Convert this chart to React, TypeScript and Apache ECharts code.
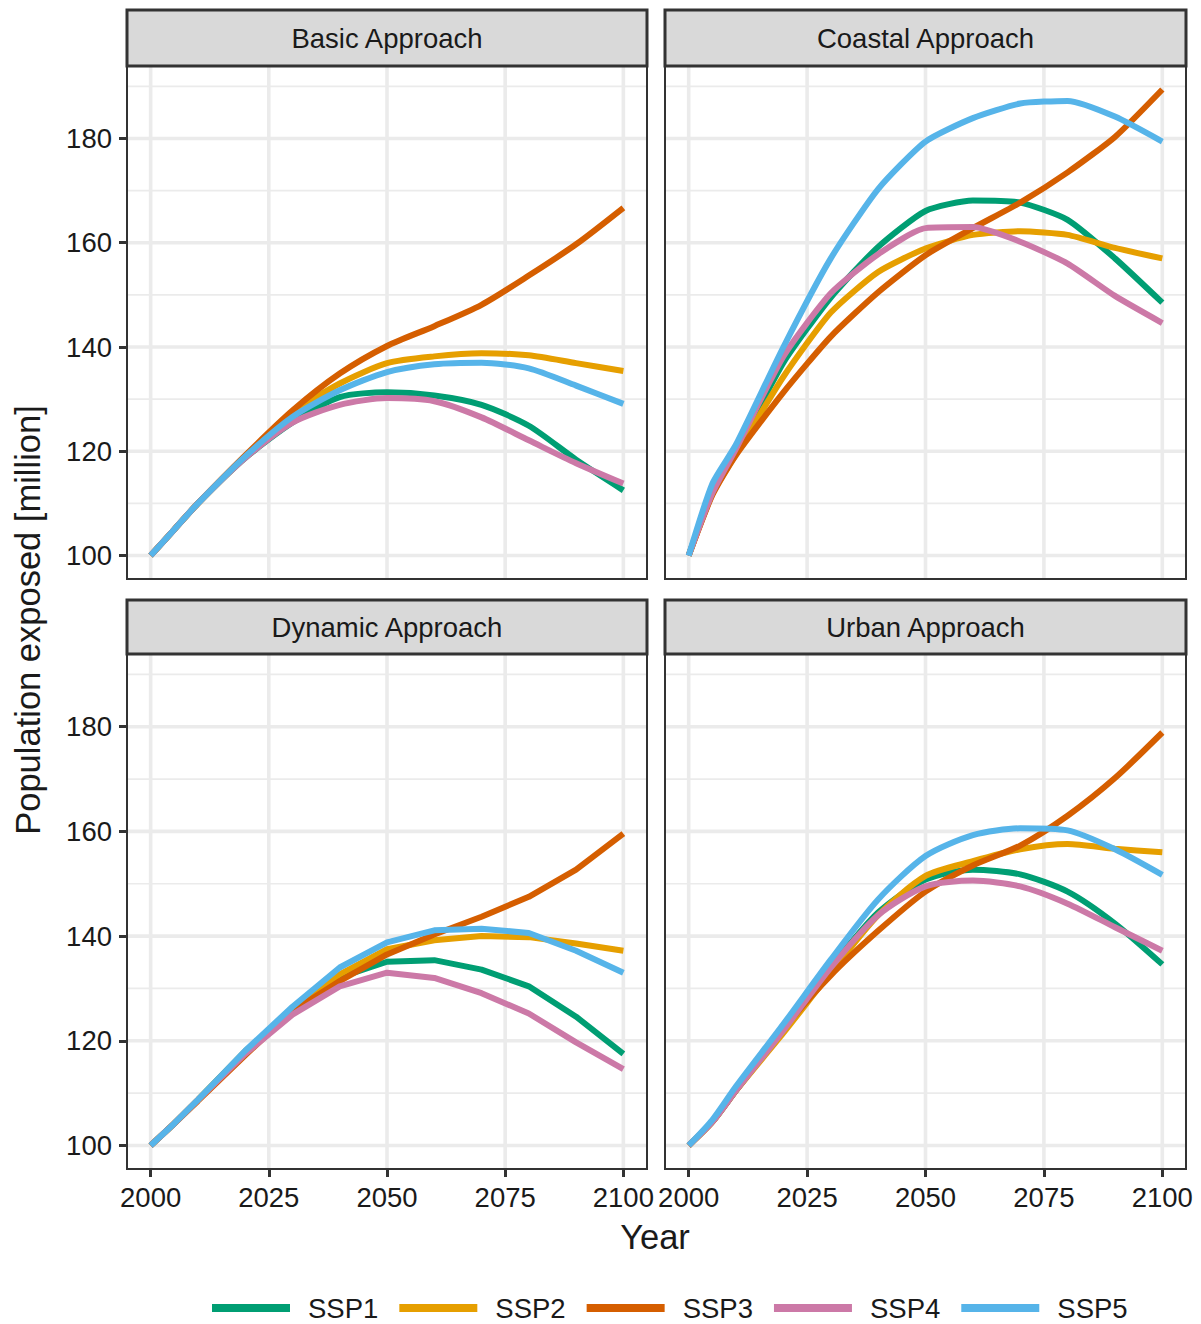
import React, { useEffect, useRef } from "react";
import * as echarts from "echarts";

// ---------- data ----------
const years = [2000, 2005, 2010, 2020, 2030, 2040, 2050, 2060, 2070, 2080, 2090, 2100];
const scenarios = ["SSP1", "SSP2", "SSP3", "SSP4", "SSP5"];
const panelTitles = ["Basic Approach", "Coastal Approach", "Dynamic Approach", "Urban Approach"];

// values per scenario (SSP1..SSP5), population exposed [million]
const basicValues = [
  [100, 105, 110, 118.7, 125.5, 130.4, 131.3, 130.7, 128.9, 124.9, 118.4, 112.5],
  [100, 105, 110, 119.0, 127.3, 133.0, 136.9, 138.2, 138.8, 138.4, 136.9, 135.4],
  [100, 105, 110, 119.2, 127.8, 134.9, 140.2, 144.0, 148.1, 153.7, 159.7, 166.7],
  [100, 105, 110, 118.7, 125.5, 128.9, 130.2, 129.6, 126.5, 122.1, 117.7, 113.8],
  [100, 105, 110, 119.0, 126.6, 131.7, 135.2, 136.7, 137.0, 135.9, 132.6, 129.1],
];
const coastalValues = [
  [100, 112.0, 120.0, 137.0, 149.5, 159.2, 166.1, 168.1, 167.7, 164.4, 157.0, 148.5],
  [100, 111.8, 119.5, 134.3, 146.6, 154.4, 158.9, 161.5, 162.2, 161.5, 159.0, 157.0],
  [100, 111.6, 119.3, 131.3, 142.0, 150.5, 157.6, 162.8, 167.7, 173.5, 180.3, 189.4],
  [100, 112.0, 120.5, 138.2, 150.3, 157.8, 162.8, 163.0, 160.2, 156.0, 149.8, 144.6],
  [100, 113.8, 121.3, 140.0, 157.0, 170.3, 179.4, 183.9, 186.7, 187.2, 184.2, 179.4],
];
const dynamicValues = [
  [100, 104.2, 108.7, 118.0, 125.5, 132.1, 135.1, 135.4, 133.6, 130.4, 124.6, 117.5],
  [100, 104.2, 108.7, 118.0, 125.9, 132.7, 137.5, 139.2, 140.0, 139.8, 138.6, 137.2],
  [100, 104.2, 108.5, 117.2, 125.7, 131.4, 136.5, 140.3, 143.7, 147.5, 152.7, 159.6],
  [100, 104.2, 108.7, 117.5, 125.0, 130.4, 133.0, 132.0, 129.1, 125.2, 119.7, 114.6],
  [100, 104.2, 108.7, 118.1, 126.5, 134.0, 138.8, 141.1, 141.4, 140.6, 137.2, 133.0],
];
const urbanValues = [
  [100, 104.5, 110.5, 122.0, 134.0, 144.5, 150.8, 152.7, 151.8, 148.5, 142.4, 134.6],
  [100, 104.5, 110.5, 121.5, 133.0, 144.0, 151.5, 154.3, 156.6, 157.6, 156.7, 156.0],
  [100, 104.5, 110.5, 122.3, 132.5, 141.0, 148.5, 153.5, 157.3, 163.0, 170.2, 178.9],
  [100, 104.5, 110.5, 122.0, 134.0, 144.0, 149.5, 150.6, 149.5, 146.2, 141.7, 137.2],
  [100, 104.9, 111.3, 123.2, 135.5, 147.0, 155.3, 159.3, 160.6, 160.2, 156.6, 151.7],
];
const panelValues = [basicValues, coastalValues, dynamicValues, urbanValues];

const xTicks = [2000, 2025, 2050, 2075, 2100];
const yTicks = [100, 120, 140, 160, 180];
const yMinorTicks = [110, 130, 150, 170, 190];
const xRange = [1995, 2105];
const yRange = [95.5, 193.9];

// ---------- styling / layout ----------
const colors = ["#009E73", "#E69F00", "#D55E00", "#CC79A7", "#56B4E9"];
const panelSmooth = [0.25, 0.2, 0, 0.25];
const FONT = "'Liberation Sans', Arial, Helvetica, sans-serif";
const TEXT = "#1a1a1a";
const panels = [
  { left: 127, top: 66, width: 520, height: 513 },
  { left: 665, top: 66, width: 521, height: 513 },
  { left: 127, top: 654, width: 520, height: 515 },
  { left: 665, top: 654, width: 521, height: 515 },
];
const strips = [
  { y: 10, h: 56 },
  { y: 10, h: 56 },
  { y: 600, h: 54 },
  { y: 600, h: 54 },
];

function buildOption() {
  const grid = panels.map((p) => ({ ...p, show: false, containLabel: false }));

  const xAxis = panels.map((_, i) => {
    const bottom = i >= 2;
    return {
      type: "value",
      gridIndex: i,
      min: xRange[0],
      max: xRange[1],
      axisLine: { show: false, onZero: false },
      splitLine: { show: false },
      axisTick: {
        show: bottom,
        customValues: xTicks,
        length: 8,
        lineStyle: { color: "#333333", width: 3 },
      },
      axisLabel: {
        show: bottom,
        customValues: xTicks,
        margin: 14,
        fontSize: 27.5,
        color: TEXT,
        fontFamily: FONT,
        hideOverlap: false,
        formatter: (v: number) => String(v),
      },
    };
  });

  const yAxis = panels.map((_, i) => {
    const left = i % 2 === 0;
    return {
      type: "value",
      gridIndex: i,
      min: yRange[0],
      max: yRange[1],
      axisLine: { show: false, onZero: false },
      splitLine: { show: false },
      axisTick: {
        show: left,
        customValues: yTicks,
        length: 8,
        lineStyle: { color: "#333333", width: 3 },
      },
      axisLabel: {
        show: left,
        customValues: yTicks,
        margin: 15,
        fontSize: 27.5,
        color: TEXT,
        fontFamily: FONT,
        hideOverlap: false,
        formatter: (v: number) => String(v),
      },
    };
  });

  const series: any[] = [];
  panels.forEach((_, gi) => {
    const seg = (data: number[][], width: number) => ({
      type: "line",
      xAxisIndex: gi,
      yAxisIndex: gi,
      data,
      symbol: "none",
      silent: true,
      z: 1,
      lineStyle: { color: "#ebebeb", width },
      tooltip: { show: false },
    });
    yMinorTicks.forEach((v) => series.push(seg([[xRange[0], v], [xRange[1], v]], 1.7)));
    yTicks.forEach((v) => series.push(seg([[xRange[0], v], [xRange[1], v]], 3.6)));
    xTicks.forEach((v) => series.push(seg([[v, yRange[0]], [v, yRange[1]]], 3.6)));
  });
  panels.forEach((_, gi) => {
    panelValues[gi].forEach((vals, s) => {
      series.push({
        type: "line",
        name: scenarios[s],
        xAxisIndex: gi,
        yAxisIndex: gi,
        data: years.map((yr, k) => [yr, vals[k]]),
        symbol: "none",
        showSymbol: false,
        silent: true,
        smooth: panelSmooth[gi],
        z: 3,
        color: colors[s],
        itemStyle: { color: colors[s] },
        lineStyle: { color: colors[s], width: 6 },
      });
    });
  });

  const graphic: any[] = [];
  panels.forEach((p, i) => {
    graphic.push({
      type: "rect",
      z: 100,
      shape: { x: p.left, y: p.top, width: p.width, height: p.height },
      style: { fill: "none", stroke: "#333333", lineWidth: 2 },
      silent: true,
    });
    const st = strips[i];
    graphic.push({
      type: "rect",
      z: 100,
      shape: { x: p.left, y: st.y, width: p.width, height: st.h },
      style: { fill: "#d9d9d9", stroke: "#333333", lineWidth: 3 },
      silent: true,
    });
    graphic.push({
      type: "text",
      z: 101,
      x: p.left + p.width / 2,
      y: st.y + st.h / 2,
      style: {
        text: panelTitles[i],
        fontSize: 27.5,
        fontFamily: FONT,
        fill: TEXT,
        align: "center",
        verticalAlign: "middle",
      },
      silent: true,
    });
  });
  graphic.push({
    type: "text",
    x: 28,
    y: 620,
    rotation: Math.PI / 2,
    style: {
      text: "Population exposed [million]",
      fontSize: 34.5,
      fontFamily: FONT,
      fill: TEXT,
      align: "center",
      verticalAlign: "middle",
    },
    silent: true,
  });
  graphic.push({
    type: "text",
    x: 655,
    y: 1237,
    style: {
      text: "Year",
      fontSize: 34.5,
      fontFamily: FONT,
      fill: TEXT,
      align: "center",
      verticalAlign: "middle",
    },
    silent: true,
  });

  return {
    animation: false,
    backgroundColor: "#ffffff",
    textStyle: { fontFamily: FONT },
    grid,
    xAxis,
    yAxis,
    series,
    graphic,
    legend: {
      data: scenarios,
      orient: "horizontal",
      left: 212,
      top: 1294,
      padding: 0,
      icon: "rect",
      itemWidth: 78,
      itemHeight: 8,
      itemGap: 21,
      selectedMode: false,
      textStyle: {
        fontSize: 27.5,
        fontFamily: FONT,
        color: TEXT,
        padding: [0, 0, 0, 13],
      },
    },
  };
}

export default function App() {
  const ref = useRef<HTMLDivElement>(null);
  useEffect(() => {
    if (!ref.current) return;
    const chart = echarts.init(ref.current, undefined, { renderer: "svg" });
    chart.setOption(buildOption() as any);
    return () => chart.dispose();
  }, []);
  return (
    <div
      ref={ref}
      style={{ position: "fixed", left: 0, top: 0, width: 1201, height: 1324, background: "#fff" }}
    />
  );
}
